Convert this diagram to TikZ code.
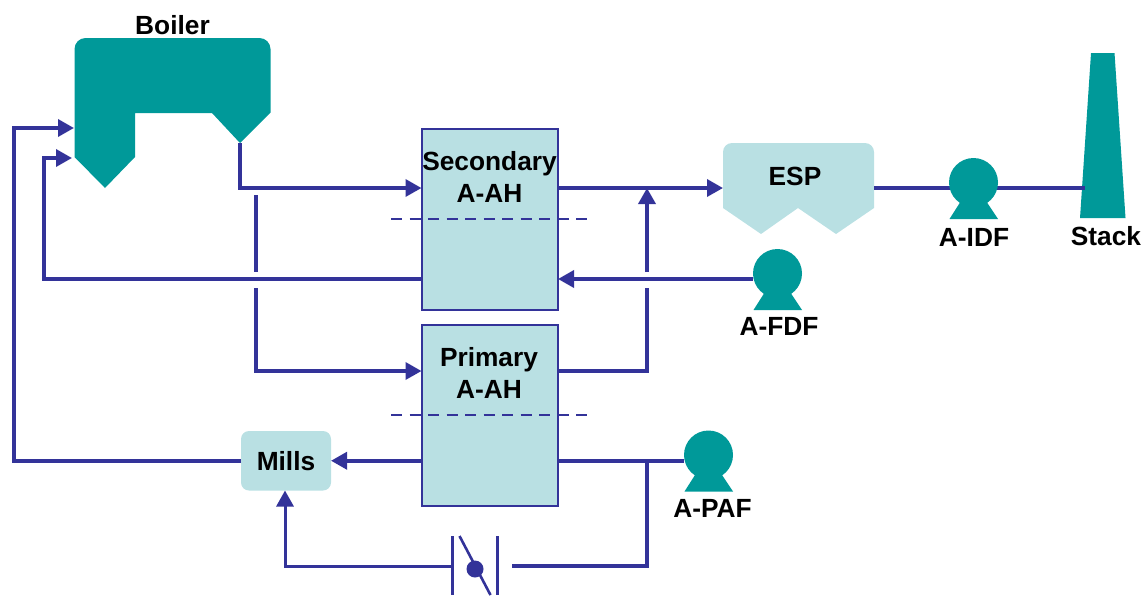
\documentclass[tikz,border=0pt]{standalone}
\usepackage{fontspec}
\setmainfont{Liberation Sans}
\usetikzlibrary{arrows.meta}
\definecolor{flowc}{HTML}{333399}
\definecolor{tealc}{HTML}{009999}
\definecolor{palec}{HTML}{B9E0E3}
\tikzset{
  flow/.style={draw=flowc,line width=3.5pt,line join=miter},
  flowarrow/.style={flow,-{Triangle[length=16pt,width=17pt]}},
  thinflow/.style={draw=flowc,line width=3pt},
  ahbox/.style={draw=flowc,line width=2pt,fill=palec,minimum width=136.5pt,inner sep=0pt,outer sep=0pt},
  dashline/.style={draw=flowc,line width=2.2pt,dash pattern=on 11pt off 7.5pt},
  lbl/.style={font=\fontsize{26.3pt}{32pt}\selectfont\bfseries,text=black,inner sep=0pt,align=center},
  teal/.style={fill=tealc},
  pale/.style={fill=palec},
  fancirc/.style={circle,fill=tealc,minimum size=49pt,inner sep=0pt,outer sep=0pt}
}
\newcommand{\fanbase}[1]{\fill[teal] ([shift={(-13.5,20)}]#1.center) -- ([shift={(13.5,20)}]#1.center) -- ([shift={(24.5,36.5)}]#1.center) -- ([shift={(-24,36.5)}]#1.center) -- cycle;}
\begin{document}
\begin{tikzpicture}[x=1pt,y=-1pt]
\useasboundingbox (0,0) rectangle (1147,595);
% anchors for the free ends of connectors
\coordinate (boilerTip) at (240,143);
\coordinate (boilerIn1) at (74,128);
\coordinate (boilerIn2) at (72,158);
\coordinate (espIn) at (723,188);
\coordinate (espOut) at (874,188);
\coordinate (stackIn) at (1085,188);
\coordinate (branchTop) at (256,195);
\coordinate (gapTop1) at (256,272);
\coordinate (gapTop2) at (256,288);
\coordinate (gapR1) at (647,288);
\coordinate (gapR2) at (647,272);
\coordinate (joinR) at (647,188);
\coordinate (pafJoin) at (647,461);
\coordinate (valveR) at (512,566);
\coordinate (valveL) at (452,566);

% equipment
\node[ahbox,minimum height=181pt] (sec) at (489.75,219) {};
\node[ahbox,minimum height=180.5pt] (pri) at (489.75,415.25) {};
\node[pale,rounded corners=8pt,minimum width=90pt,minimum height=59.5pt,inner sep=0pt,outer sep=0pt] (mills) at (286,460.75) {};
\fill[teal] (74.5,157) [rounded corners=11pt] -- (74.5,38) -- (270.5,38) [sharp corners] -- (270.5,112.5) -- (240,143) -- (212,113) -- (135,113) -- (135,157) -- (105,188) -- cycle;
\fill[pale] (723,208) [rounded corners=9pt] -- (723,143) -- (874,143) [sharp corners] -- (874,208) -- (836,234) -- (798,208) -- (761,234) -- cycle;
\fill[teal] (1091,53) -- (1114.5,53) -- (1125.5,218) -- (1080,218) -- cycle;

% connectors
\draw[flowarrow] (boilerTip) |- (sec.west |- espIn);
\draw[flow] (branchTop) -- (gapTop1);
\draw[flowarrow] (gapTop2) |- (pri.west |- 0,371);
\draw[flowarrow] (sec.east |- espIn) -- (espIn);
\draw[flow] (pri.east |- 0,371) -| (gapR1);
\draw[flowarrow] (gapR2) -- (joinR);
\draw[flowarrow] (sec.west |- 0,279) -| (44,158) -- (boilerIn2);
\draw[flowarrow] (mills.west) -| (14,128) -- (boilerIn1);
\draw[flowarrow] (pri.west |- mills.west) -- (mills.east);
\draw[flow] (espOut) -- (stackIn);

% fans
\node[fancirc] (idf) at (973.5,182.5) {};
\node[fancirc] (fdf) at (777.5,273.5) {};
\node[fancirc] (paf) at (708.5,455) {};
\fanbase{idf}
\fanbase{fdf}
\fanbase{paf}
\draw[flowarrow] (fdf.west |- 0,279) -- (sec.east |- 0,279);
\draw[flow] (paf.west |- pafJoin) -- (pri.east |- pafJoin);
\draw[flow] (pafJoin) |- (valveR);
\draw[flow,line width=3pt,-{Triangle[length=16pt,width=17pt]}] (valveL) -| (mills.south -| 285,0);

% damper
\coordinate (damperDot) at (475,569);
\draw[thinflow] (452,536) -- (452,595);
\draw[thinflow] (497.5,536) -- (497.5,595);
\draw[draw=flowc,line width=2.6pt] (459.5,536) -- (490.5,595);
\fill[flowc] (damperDot) circle (8.5);

% dashed lines
\draw[dashline] (391,219) -- (588,219);
\draw[dashline] (391,415) -- (588,415);

% labels
\node[lbl] (tBoiler) at (172.5,25) {Boiler};
\node[lbl] (tSec) at (489.5,177) {Secondary\\A-AH};
\node[lbl] (tPri) at (489,373) {Primary\\A-AH};
\node[lbl] (tMills) at (286,461.5) {Mills};
\node[lbl] (tEsp) at (795,176) {ESP};
\node[lbl] (tIdf) at (974,237) {A-IDF};
\node[lbl] (tFdf) at (779,326) {A-FDF};
\node[lbl] (tPaf) at (712.5,508) {A-PAF};
\node[lbl] (tStack) at (1106,236) {Stack};
\end{tikzpicture}
\end{document}
